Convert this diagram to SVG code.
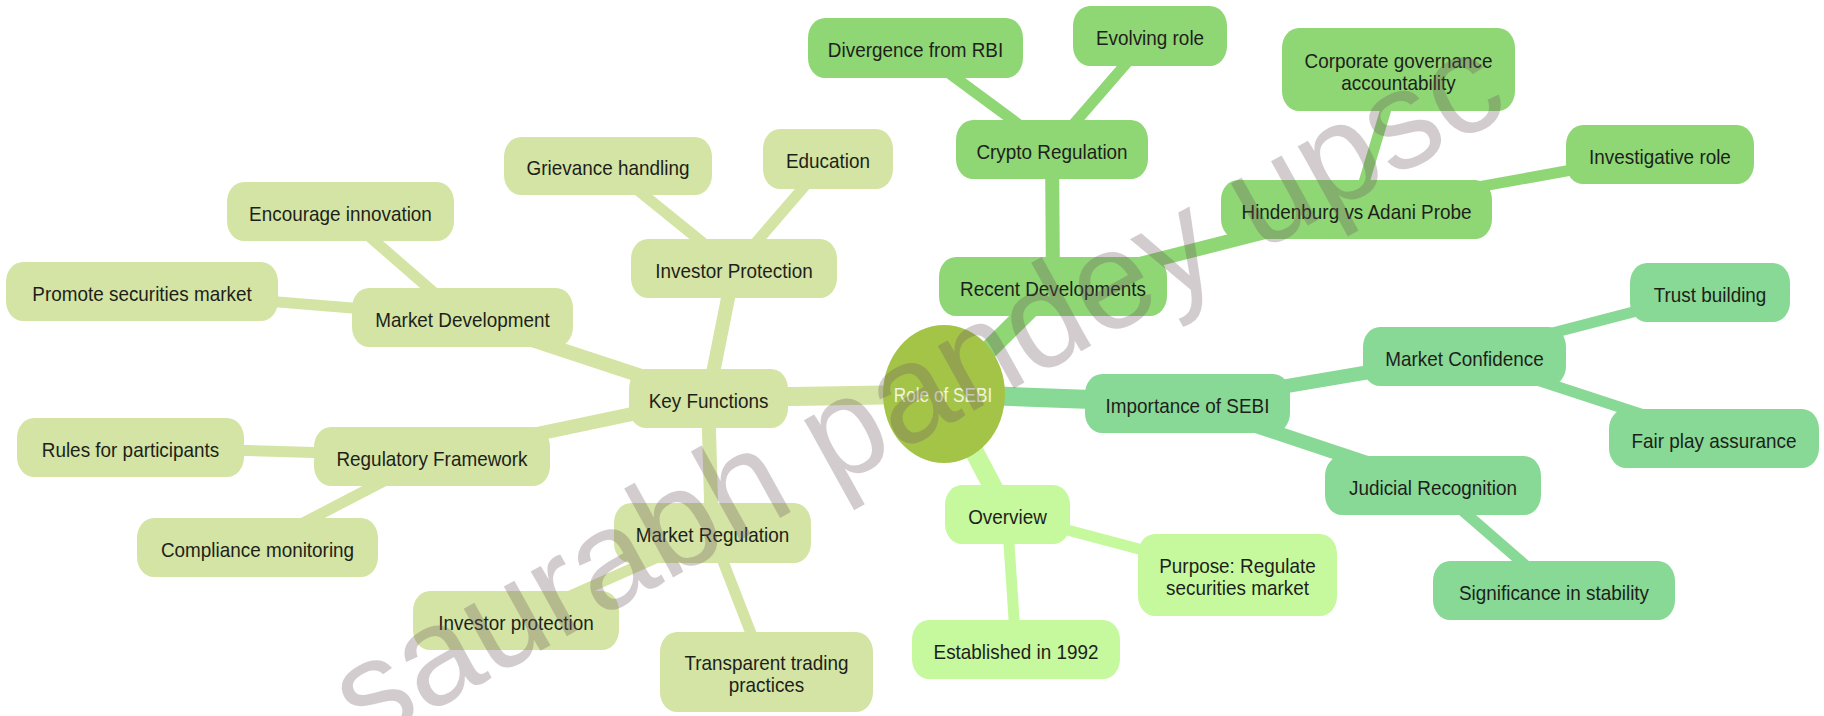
<svg xmlns="http://www.w3.org/2000/svg" width="1824" height="716" viewBox="0 0 1824 716">
<style>
.e{fill:none;stroke-linecap:round}
.d1{stroke-width:19}.d2{stroke-width:14}.d3{stroke-width:11}
.ka{stroke:#d4e4a4}.ra{stroke:#8fd675}.ia{stroke:#88d896}.oa{stroke:#c6f89e}
.kf{fill:#d4e4a4}.rf{fill:#8fd675}.if{fill:#88d896}.of{fill:#c6f89e}
.t{font-family:"Liberation Sans",Arial,sans-serif;font-size:21px;fill:#1d1f1a;text-anchor:middle}
.rt{font-family:"Liberation Sans",Arial,sans-serif;font-size:20px;fill:#f2f3e6;text-anchor:middle}
.wm{font-family:"Liberation Sans",Arial,sans-serif;font-size:140px;fill:#6e5a5f;opacity:0.3}
</style>
<rect width="1824" height="716" fill="#ffffff"/>
<g id="connectors">
<line class="e d1 ka" x1="944" y1="394" x2="708" y2="398"/>
<line class="e d1 ra" x1="944" y1="394" x2="1053" y2="286"/>
<line class="e d1 ia" x1="944" y1="394" x2="1187" y2="403"/>
<line class="e d1 oa" x1="944" y1="394" x2="1007" y2="514"/>
<line class="e d2 ka" x1="708" y1="398" x2="734" y2="268"/>
<line class="e d2 ka" x1="708" y1="398" x2="462" y2="317"/>
<line class="e d2 ka" x1="708" y1="398" x2="432" y2="456"/>
<line class="e d2 ka" x1="708" y1="398" x2="712" y2="533"/>
<line class="e d3 ka" x1="734" y1="268" x2="608" y2="166"/>
<line class="e d3 ka" x1="734" y1="268" x2="828" y2="159"/>
<line class="e d3 ka" x1="462" y1="317" x2="340" y2="211"/>
<line class="e d3 ka" x1="462" y1="317" x2="142" y2="291"/>
<line class="e d3 ka" x1="432" y1="456" x2="130" y2="447"/>
<line class="e d3 ka" x1="432" y1="456" x2="257" y2="547"/>
<line class="e d3 ka" x1="712" y1="533" x2="516" y2="620"/>
<line class="e d3 ka" x1="712" y1="533" x2="766" y2="672"/>
<line class="e d2 ra" x1="1053" y1="286" x2="1052" y2="149"/>
<line class="e d2 ra" x1="1053" y1="286" x2="1356" y2="209"/>
<line class="e d3 ra" x1="1052" y1="149" x2="915" y2="48"/>
<line class="e d3 ra" x1="1052" y1="149" x2="1150" y2="36"/>
<line class="e d3 ra" x1="1356" y1="209" x2="1398" y2="69"/>
<line class="e d3 ra" x1="1356" y1="209" x2="1660" y2="154"/>
<line class="e d2 ia" x1="1187" y1="403" x2="1464" y2="356"/>
<line class="e d2 ia" x1="1187" y1="403" x2="1433" y2="485"/>
<line class="e d3 ia" x1="1464" y1="356" x2="1710" y2="292"/>
<line class="e d3 ia" x1="1464" y1="356" x2="1714" y2="438"/>
<line class="e d3 ia" x1="1433" y1="485" x2="1554" y2="590"/>
<line class="e d3 oa" x1="1007" y1="514" x2="1237" y2="575"/>
<line class="e d3 oa" x1="1007" y1="514" x2="1016" y2="649"/>
</g>
<g id="root"><ellipse cx="944" cy="394" rx="61" ry="69" fill="#a4c448"/><text class="rt" transform="translate(943,402) scale(0.86,1)">Role of SEBI</text></g>
<g id="key-functions"><rect class="kf" x="629" y="369" width="159" height="59" rx="17" ry="20"/><text class="t" transform="translate(708.5,408) scale(0.9,1)">Key Functions</text></g>
<g id="investor-protection-main"><rect class="kf" x="631" y="239" width="206" height="59" rx="17" ry="20"/><text class="t" transform="translate(734,278) scale(0.9,1)">Investor Protection</text></g>
<g id="grievance"><rect class="kf" x="504" y="137" width="208" height="58" rx="17" ry="20"/><text class="t" transform="translate(608,175) scale(0.9,1)">Grievance handling</text></g>
<g id="education"><rect class="kf" x="763" y="129" width="130" height="60" rx="17" ry="20"/><text class="t" transform="translate(828,168) scale(0.9,1)">Education</text></g>
<g id="market-development"><rect class="kf" x="352" y="288" width="221" height="59" rx="17" ry="20"/><text class="t" transform="translate(462.5,327) scale(0.9,1)">Market Development</text></g>
<g id="encourage"><rect class="kf" x="227" y="182" width="227" height="59" rx="17" ry="20"/><text class="t" transform="translate(340.5,221) scale(0.9,1)">Encourage innovation</text></g>
<g id="promote"><rect class="kf" x="6" y="262" width="272" height="59" rx="17" ry="20"/><text class="t" transform="translate(142,301) scale(0.9,1)">Promote securities market</text></g>
<g id="regulatory-framework"><rect class="kf" x="314" y="427" width="236" height="59" rx="17" ry="20"/><text class="t" transform="translate(432,466) scale(0.9,1)">Regulatory Framework</text></g>
<g id="rules"><rect class="kf" x="17" y="418" width="227" height="59" rx="17" ry="20"/><text class="t" transform="translate(130.5,457) scale(0.9,1)">Rules for participants</text></g>
<g id="compliance"><rect class="kf" x="137" y="518" width="241" height="59" rx="17" ry="20"/><text class="t" transform="translate(257.5,557) scale(0.9,1)">Compliance monitoring</text></g>
<g id="market-regulation"><rect class="kf" x="614" y="503" width="197" height="60" rx="17" ry="20"/><text class="t" transform="translate(712.5,542) scale(0.9,1)">Market Regulation</text></g>
<g id="investor-protection-leaf"><rect class="kf" x="413" y="591" width="206" height="59" rx="17" ry="20"/><text class="t" transform="translate(516,630) scale(0.9,1)">Investor protection</text></g>
<g id="transparent"><rect class="kf" x="660" y="632" width="213" height="80" rx="17" ry="20"/><text class="t" transform="translate(766.5,670) scale(0.9,1)">Transparent trading</text><text class="t" transform="translate(766.5,692) scale(0.9,1)">practices</text></g>
<g id="recent-developments"><rect class="rf" x="939" y="257" width="228" height="59" rx="17" ry="20"/><text class="t" transform="translate(1053,296) scale(0.9,1)">Recent Developments</text></g>
<g id="crypto"><rect class="rf" x="956" y="120" width="192" height="59" rx="17" ry="20"/><text class="t" transform="translate(1052,159) scale(0.9,1)">Crypto Regulation</text></g>
<g id="divergence"><rect class="rf" x="808" y="18" width="215" height="60" rx="17" ry="20"/><text class="t" transform="translate(915.5,57) scale(0.9,1)">Divergence from RBI</text></g>
<g id="evolving"><rect class="rf" x="1073" y="6" width="154" height="60" rx="17" ry="20"/><text class="t" transform="translate(1150,45) scale(0.9,1)">Evolving role</text></g>
<g id="hindenburg"><rect class="rf" x="1221" y="180" width="271" height="59" rx="17" ry="20"/><text class="t" transform="translate(1356.5,219) scale(0.9,1)">Hindenburg vs Adani Probe</text></g>
<g id="corporate"><rect class="rf" x="1282" y="28" width="233" height="83" rx="17" ry="20"/><text class="t" transform="translate(1398.5,68) scale(0.9,1)">Corporate governance</text><text class="t" transform="translate(1398.5,90) scale(0.9,1)">accountability</text></g>
<g id="investigative"><rect class="rf" x="1566" y="125" width="188" height="59" rx="17" ry="20"/><text class="t" transform="translate(1660,164) scale(0.9,1)">Investigative role</text></g>
<g id="importance"><rect class="if" x="1085" y="374" width="205" height="59" rx="17" ry="20"/><text class="t" transform="translate(1187.5,413) scale(0.9,1)">Importance of SEBI</text></g>
<g id="market-confidence"><rect class="if" x="1363" y="327" width="203" height="59" rx="17" ry="20"/><text class="t" transform="translate(1464.5,366) scale(0.9,1)">Market Confidence</text></g>
<g id="trust"><rect class="if" x="1630" y="263" width="160" height="59" rx="17" ry="20"/><text class="t" transform="translate(1710,302) scale(0.9,1)">Trust building</text></g>
<g id="fair-play"><rect class="if" x="1609" y="409" width="210" height="59" rx="17" ry="20"/><text class="t" transform="translate(1714,448) scale(0.9,1)">Fair play assurance</text></g>
<g id="judicial"><rect class="if" x="1325" y="456" width="216" height="59" rx="17" ry="20"/><text class="t" transform="translate(1433,495) scale(0.9,1)">Judicial Recognition</text></g>
<g id="significance"><rect class="if" x="1433" y="561" width="242" height="59" rx="17" ry="20"/><text class="t" transform="translate(1554,600) scale(0.9,1)">Significance in stability</text></g>
<g id="overview"><rect class="of" x="945" y="485" width="125" height="59" rx="17" ry="20"/><text class="t" transform="translate(1007.5,524) scale(0.9,1)">Overview</text></g>
<g id="purpose"><rect class="of" x="1138" y="534" width="199" height="82" rx="17" ry="20"/><text class="t" transform="translate(1237.5,573) scale(0.9,1)">Purpose: Regulate</text><text class="t" transform="translate(1237.5,595) scale(0.9,1)">securities market</text></g>
<g id="established"><rect class="of" x="912" y="620" width="208" height="59" rx="17" ry="20"/><text class="t" transform="translate(1016,659) scale(0.9,1)">Established in 1992</text></g>
<g id="watermark"><text class="wm" transform="translate(365,748) rotate(-29) scale(0.98,1)">saurabh pandey upsc</text></g>
</svg>
